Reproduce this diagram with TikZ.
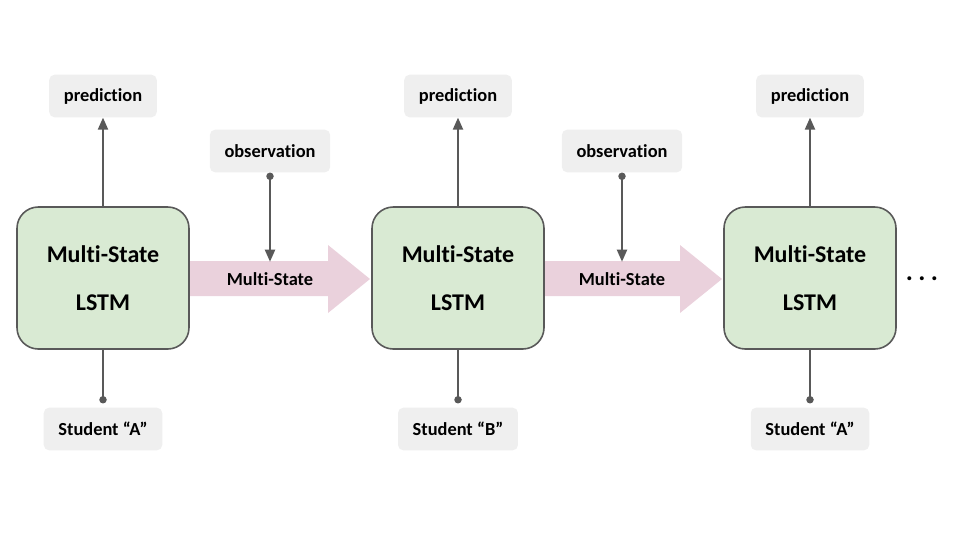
\documentclass[tikz,border=0pt]{standalone}
\usepackage{fontspec}
\setmainfont{Carlito}[RawFeature={-liga,-clig,-dlig}]
\usepackage{xcolor}
\usetikzlibrary{arrows.meta}

\definecolor{cellgreen}{HTML}{D9EAD3}
\definecolor{tagback}{HTML}{EFEFEF}
\definecolor{statepink}{HTML}{EAD1DC}
\definecolor{wire}{HTML}{595959}

\begin{document}
\begin{tikzpicture}[x=0.75pt,y=-0.75pt,
  cell/.style={draw=wire,line width=1.2pt,fill=cellgreen,rounded corners=16pt,
    minimum width=129pt,minimum height=106.5pt,align=center,
    font=\fontsize{18}{36}\selectfont\bfseries},
  tag/.style={fill=tagback,rounded corners=4pt,inner xsep=11pt,inner ysep=0pt,
    minimum height=32pt,font=\fontsize{13.8}{16}\selectfont\bfseries},
  statelabel/.style={inner sep=0pt,minimum height=25.5pt,
    font=\fontsize{13.8}{16}\selectfont\bfseries},
  predwire/.style={draw=wire,line width=1.5pt,-{Triangle[length=9pt,width=7.5pt]}},
  obswire/.style={draw=wire,line width=1.5pt,{Circle[length=5.5pt]}-{Triangle[length=9pt,width=7.5pt]}},
  feedwire/.style={draw=wire,line width=1.5pt,{Circle[length=5.5pt]}-}]
\useasboundingbox (0,0) rectangle (960,540);

% states passed on
\fill[statepink] (189,261) -- (328,261) -- (328,245) -- (370,279) -- (328,313) -- (328,296) -- (189,296) -- cycle;
\fill[statepink] (544,261) -- (680,261) -- (680,245) -- (722,279) -- (680,313) -- (680,296) -- (544,296) -- cycle;
\node[statelabel] (ms1) at (270,279) {Multi-State};
\node[statelabel] (ms2) at (622,279) {Multi-State};

% cells
\node[cell] (l1) at (103,278) {Multi-State\\LSTM};
\node[cell] (l2) at (458,278) {Multi-State\\LSTM};
\node[cell] (l3) at (810,278) {Multi-State\\LSTM};

% tags
\node[tag] (p1) at (103,96) {prediction};
\node[tag] (p2) at (458,96) {prediction};
\node[tag] (p3) at (810,96) {prediction};
\node[tag] (o1) at (270,151) {observation};
\node[tag] (o2) at (622,151) {observation};
\node[tag] (s1) at (103,429) {Student “A”};
\node[tag] (s2) at (458,429) {Student “B”};
\node[tag] (s3) at (810,429) {Student “A”};

\node[font=\fontsize{20}{22}\selectfont\bfseries,anchor=base] (more) at (922,280) {.\hspace{4pt}.\hspace{4pt}.};

% wires
\draw[predwire] (l1.north) -- (p1.south);
\draw[predwire] (l2.north) -- (p2.south);
\draw[predwire] (l3.north) -- (p3.south);
\draw[obswire] (o1.south) -- (ms1.north);
\draw[obswire] (o2.south) -- (ms2.north);
\draw[feedwire] ([yshift=3pt]s1.north) -- (l1.south);
\draw[feedwire] ([yshift=3pt]s2.north) -- (l2.south);
\draw[feedwire] ([yshift=3pt]s3.north) -- (l3.south);
\end{tikzpicture}
\end{document}
